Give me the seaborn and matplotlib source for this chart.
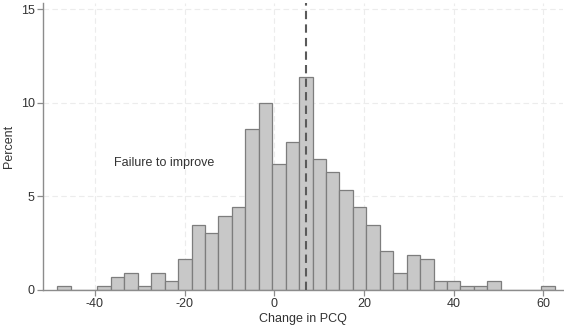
import numpy as np
import pandas as pd
import matplotlib
matplotlib.use("Agg")
import matplotlib.pyplot as plt
import seaborn as sns

# ---- data ----
bin_start = -48.45          # left edge of first bin
bin_width = 3.0
percent = [0.23, 0.0, 0.0, 0.23, 0.70, 0.93, 0.23, 0.93, 0.47, 1.63,
           3.49, 3.02, 3.95, 4.42, 8.60, 10.0, 6.74, 7.91, 11.40, 6.98,
           6.28, 5.35, 4.42, 3.49, 2.09, 0.93, 1.86, 1.63, 0.47, 0.47,
           0.23, 0.23, 0.47, 0.0, 0.0, 0.0, 0.23]
x_ticks = [-40, -20, 0, 20, 40, 60]
y_ticks = [0, 5, 10, 15]
ref_line = 7.0
annotation = "Failure to improve"
annotation_pos = (-24.5, 6.8)
x_label = "Change in PCQ"
y_label = "Percent"

n_bins = len(percent)
bin_end = bin_start + bin_width * n_bins
centers = bin_start + bin_width * (np.arange(n_bins) + 0.5)
df = pd.DataFrame({"change": centers, "pct": percent})

sns.set_theme(style="white")
plt.rcParams["font.family"] = ["Liberation Sans", "DejaVu Sans"]

fig = plt.figure(figsize=(5.64, 3.28), dpi=100)
ax = fig.add_axes([0.0762, 0.1159, 0.9218, 0.8751])

sns.histplot(data=df, x="change", weights="pct", binwidth=bin_width,
             binrange=(bin_start, bin_end), stat="count",
             color="#c8c8c8", edgecolor="#7d7d7d", linewidth=0.9, alpha=1.0,
             ax=ax, zorder=2)

ax.set_xlim(-51.6, 64.4)
ax.set_ylim(0, 15.34)
ax.set_xticks(x_ticks)
ax.set_yticks(y_ticks)
ax.set_xticklabels([str(t) for t in x_ticks])
ax.set_yticklabels([str(t) for t in y_ticks])

for t in x_ticks:
    ax.axvline(t, color="#ececec", lw=0.8, ls=(0, (5, 3)), zorder=0)
for t in y_ticks[1:]:
    ax.axhline(t, color="#ececec", lw=0.8, ls=(0, (5, 3)), zorder=0)

ax.axvline(ref_line, color="#5a5a5a", lw=1.5, ls=(0, (4, 2.5)), zorder=3)

ax.text(annotation_pos[0], annotation_pos[1], annotation, ha="center",
        va="center", fontsize=9, color="#333333")

ax.set_xlabel(x_label, fontsize=9, color="#333333", labelpad=2)
ax.set_ylabel(y_label, fontsize=9, color="#333333", labelpad=4)

for s in ["top", "right"]:
    ax.spines[s].set_visible(False)
for s in ["left", "bottom"]:
    ax.spines[s].set_color("#8c8c8c")
    ax.spines[s].set_linewidth(1.0)

ax.tick_params(axis="both", which="major", direction="out", length=4,
               width=0.9, color="#8c8c8c", labelsize=9, labelcolor="#333333",
               pad=2, bottom=True, left=True)

fig.savefig("out.png", dpi=100)
